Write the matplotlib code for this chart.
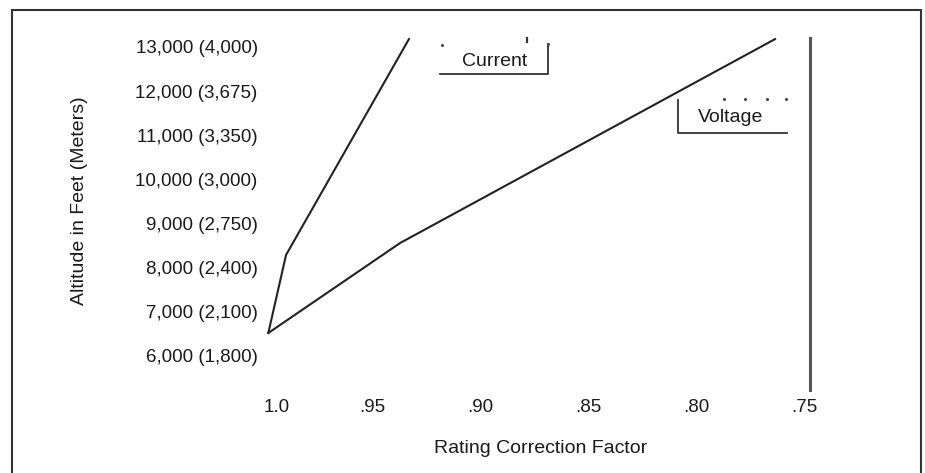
import matplotlib
matplotlib.use("Agg")
import matplotlib.pyplot as plt
from matplotlib.lines import Line2D
from matplotlib.patches import Rectangle
from matplotlib.transforms import ScaledTranslation

plt.rcParams['font.family'] = ['Liberation Sans', 'DejaVu Sans']

# Altitude derating curves: rating correction factor vs altitude (ft)
current_factor = [0.998, 0.9898, 0.9329]
current_alt = [6500, 8273, 13180]

voltage_factor = [0.998, 0.937, 0.7634]
voltage_alt = [6500, 8545, 13180]

# Limit line at the lowest correction factor
limit_factor = 0.7472
limit_alt = [5205, 13205]

x_ticks = [1.0, 0.95, 0.90, 0.85, 0.80, 0.75]
x_tick_labels = ["1.0", ".95", ".90", ".85", ".80", ".75"]
y_ticks = [13000, 12000, 11000, 10000, 9000, 8000, 7000, 6000]
y_tick_labels = ["13,000 (4,000)", "12,000 (3,675)", "11,000 (3,350)",
                 "10,000 (3,000)", "9,000 (2,750)", "8,000 (2,400)",
                 "7,000 (2,100)", "6,000 (1,800)"]

W, H = 925, 473
fig = plt.figure(figsize=(W / 100, H / 100), dpi=100)


def fx(px):
    return px / W


def fy(py):
    return 1 - py / H


# axes placement (pixel box) and limits
x_left, x_right = 1.001, 0.74
y_bot, y_top = 5200, 13500
px_l = 264 - (x_left - 1.0) / 0.05 * 108
px_r = 264 + (1.0 - x_right) / 0.05 * 108
py_b = 355 + (6000 - y_bot) / 1000 * 44
py_t = 355 - (y_top - 6000) / 1000 * 44
ax = fig.add_axes([fx(px_l), fy(py_b), (px_r - px_l) / W, (py_b - py_t) / H])
ax.set_xlim(x_left, x_right)
ax.set_ylim(y_bot, y_top)
for s in ax.spines.values():
    s.set_visible(False)
ax.patch.set_alpha(0)

ax.plot(current_factor, current_alt, color="#222222", lw=1.5,
        solid_joinstyle="miter")
ax.plot(voltage_factor, voltage_alt, color="#222222", lw=1.5,
        solid_joinstyle="miter")
ax.plot([limit_factor, limit_factor], limit_alt, color="#555555", lw=2.2,
        clip_on=False)

ax.set_xticks(x_ticks)
ax.set_xticklabels(x_tick_labels, fontsize=13.5, color="#1a1a1a")
ax.set_yticks(y_ticks)
ax.set_yticklabels(y_tick_labels, fontsize=13.5, color="#1a1a1a")
ax.tick_params(axis="both", length=0)
ax.tick_params(axis="y", pad=3)
ax.tick_params(axis="x", pad=6)
# the first factor label sits a little to the right
lbl0 = ax.get_xticklabels()[0]
lbl0.set_transform(lbl0.get_transform() + ScaledTranslation(0.13, 0, fig.dpi_scale_trans))

ax.set_xlabel("Rating Correction Factor", fontsize=14, color="#1a1a1a", va="center")
ax.set_ylabel("Altitude in Feet (Meters)", fontsize=14, color="#1a1a1a", va="center")
ax.xaxis.set_label_coords(fx(541), fy(448), transform=fig.transFigure)
ax.yaxis.set_label_coords(fx(80), fy(201), transform=fig.transFigure)

# outer frame
fig.patches.append(Rectangle((fx(12), fy(490)), fx(921) - fx(12), fy(10) - fy(490),
                             transform=fig.transFigure, fill=False,
                             edgecolor="#333333", lw=1.5))


def fig_line(xs, ys, lw=1.3, color="#333333"):
    fig.add_artist(Line2D([fx(v) for v in xs], [fy(v) for v in ys],
                          transform=fig.transFigure, color=color, lw=lw))


def fig_dot(x, y, size=2.2):
    fig.add_artist(Line2D([fx(x)], [fy(y)], transform=fig.transFigure,
                          marker="o", ms=size, mew=0, color="#444444"))


# "Current" key
fig_line([440, 548, 548], [74, 74, 44])
fig_line([527, 527], [38, 42], lw=1.6)
fig_dot(442, 45)
fig_dot(548, 44)
fig.text(fx(495), fy(61), "Current", fontsize=14, ha="center", va="center",
         color="#1a1a1a")

# "Voltage" key
fig_line([678, 678, 787], [100, 133, 133])
for dx in [724, 745, 767, 786]:
    fig_dot(dx, 99)
fig.text(fx(731), fy(117), "Voltage", fontsize=14, ha="center", va="center",
         color="#1a1a1a")

fig.savefig("out.png", dpi=100, facecolor="white")
